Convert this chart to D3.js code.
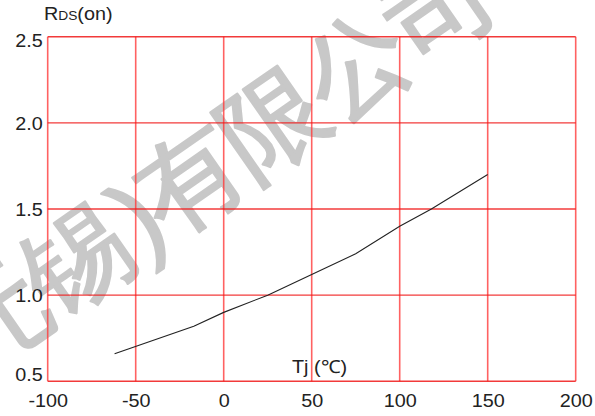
<!DOCTYPE html>
<html>
<head>
<meta charset="utf-8">
<script src="https://cdn.jsdelivr.net/npm/d3@7"></script>
<style>
  body { margin: 0; background: #fff; }
  svg { display: block; }
  text { font-family: "Liberation Sans", Arial, sans-serif; fill: #222; }
</style>
</head>
<body>
<div id="chart"></div>
<script>
// Tj (degC) vs normalised RDS(on)
var tempC = [-62, -17, 0, 25, 50, 75, 100, 118, 150]
var rdsOn = [0.66, 0.82, 0.90, 1.0, 1.12, 1.24, 1.40, 1.50, 1.70]

var xTicks = [-100, -50, 0, 50, 100, 150, 200]
var yTicks = [0.5, 1.0, 1.5, 2.0, 2.5]

var W = 595, H = 416
var margin = {top: 36.7, right: 19.3, bottom: 34.7, left: 47.7},
    width = W - margin.left - margin.right,
    height = H - margin.top - margin.bottom;

var svg = d3.select("#chart").append("svg")
    .attr("width", W)
    .attr("height", H);

/*watermark behind everything, anchored on the centre of 有*/
var wm = svg.append("g")
    .attr("transform", "translate(190,180) rotate(-34.8)")
    .style("font-family", "'Noto Sans CJK SC'")
    .style("font-size", "104px")
    .style("fill", "#c8c8c8")
    .style("stroke", "#c8c8c8")
    .style("stroke-width", 2.4)
    .style("stroke-linejoin", "round");
wm.append("text")
    .attr("x", -52)
    .attr("dominant-baseline", "central")
    .style("letter-spacing", "-3px")
    .style("fill", "#c8c8c8")
    .text("有限公司");
wm.append("text")
    .attr("x", -64)
    .attr("text-anchor", "middle")
    .attr("dominant-baseline", "central")
    .style("fill", "#c8c8c8")
    .text(")");
wm.append("text")
    .attr("x", -90)
    .attr("text-anchor", "end")
    .attr("dominant-baseline", "central")
    .style("letter-spacing", "-3px")
    .style("fill", "#c8c8c8")
    .text("(无锡");

var g = svg.append("g")
    .attr("transform", "translate(" + margin.left + "," + margin.top + ")");

var x = d3.scaleLinear().domain([-100, 200]).range([0, width]);
var y = d3.scaleLinear().domain([0.5, 2.5]).range([height, 0]);

// grid
g.append("g").selectAll("line")
    .data(xTicks)
    .enter().append("line")
    .attr("x1", function(d) { return x(d); })
    .attr("x2", function(d) { return x(d); })
    .attr("y1", 0)
    .attr("y2", height)
    .style("stroke", "#ff3b3b")
    .style("stroke-opacity", 0.8)
    .style("stroke-width", 1.6);

g.append("g").selectAll("line")
    .data(yTicks)
    .enter().append("line")
    .attr("x1", 0)
    .attr("x2", width)
    .attr("y1", function(d) { return y(d); })
    .attr("y2", function(d) { return y(d); })
    .style("stroke", "#f01818")
    .style("stroke-opacity", 0.85)
    .style("stroke-width", 1.4);

// axes (labels only, the grid draws the frame)
var xAxis = d3.axisBottom(x).tickValues(xTicks).tickSize(0).tickPadding(0)
    .tickFormat(function(d) { return String(d); });
var yAxis = d3.axisLeft(y).tickValues(yTicks).tickSize(0).tickPadding(0)
    .tickFormat(d3.format(".1f"));

var gx = g.append("g")
    .attr("transform", "translate(0," + height + ")")
    .call(xAxis);
gx.select(".domain").remove();
gx.selectAll("text")
    .attr("y", 0)
    .attr("dy", 0)
    .attr("transform", "translate(0,26) scale(1.1,1)")
    .style("font-size", "18px")
    .style("font-family", "'Liberation Sans', Arial, sans-serif")
    .style("fill", "#222");

var gy = g.append("g").call(yAxis);
gy.select(".domain").remove();
gy.selectAll("text")
    .attr("x", 0)
    .attr("dy", 0)
    .attr("transform", function(d, i) {
        var off = d === 0.5 ? -1 : (d === 2.5 ? 10 : 6.5);
        return "translate(-5," + off + ") scale(1.1,1)";
    })
    .style("font-size", "18px")
    .style("font-family", "'Liberation Sans', Arial, sans-serif")
    .style("fill", "#222");

// curve
var line = d3.line()
    .x(function(d, i) { return x(tempC[i]); })
    .y(function(d) { return y(d); });

g.append("path")
    .datum(rdsOn)
    .attr("d", line)
    .style("fill", "none")
    .style("stroke", "#222")
    .style("stroke-width", 1.1);

// axis titles
var yt = svg.append("text")
    .attr("transform", "translate(44,20) scale(1.1,1)")
    .style("font-size", "18px");
yt.append("tspan").text("R");
yt.append("tspan").style("font-size", "12.5px").text("DS");
yt.append("tspan").text("(on)");

svg.append("text")
    .attr("transform", "translate(292,373) scale(1.1,1)")
    .style("font-size", "18px")
    .text("Tj (℃)");
</script>
</body>
</html>
